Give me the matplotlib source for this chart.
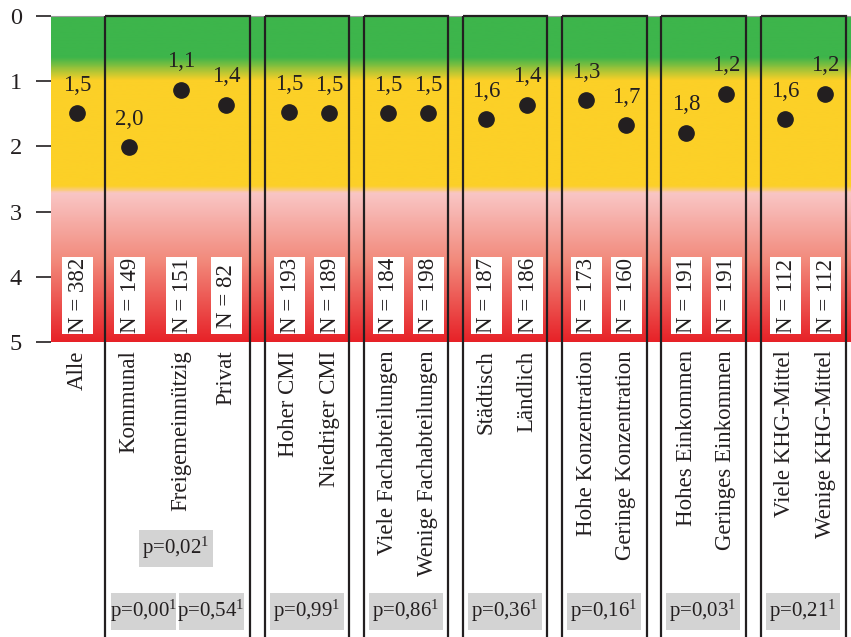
import numpy as np
import matplotlib
matplotlib.use('Agg')
import matplotlib.pyplot as plt
from matplotlib.colors import LinearSegmentedColormap
from matplotlib.patches import Rectangle

plt.rcParams['font.family'] = 'serif'
plt.rcParams['font.serif'] = ['Liberation Serif', 'DejaVu Serif']
plt.rcParams['mathtext.fontset'] = 'custom'
plt.rcParams['mathtext.rm'] = 'Liberation Serif'
plt.rcParams['mathtext.it'] = 'Liberation Serif'
plt.rcParams['mathtext.default'] = 'rm'

# categories and values (mean score, 0 = best)
labels = ['Alle', 'Kommunal', 'Freigemeinnützig', 'Privat',
          'Hoher CMI', 'Niedriger CMI',
          'Viele Fachabteilungen', 'Wenige Fachabteilungen',
          'Städtisch', 'Ländlich',
          'Hohe Konzentration', 'Geringe Konzentration',
          'Hohes Einkommen', 'Geringes Einkommen',
          'Viele KHG-Mittel', 'Wenige KHG-Mittel']
values = [1.49, 2.01, 1.13, 1.36, 1.47, 1.49, 1.49, 1.49,
          1.58, 1.36, 1.29, 1.67, 1.79, 1.19, 1.58, 1.19]
value_text = ['1,5', '2,0', '1,1', '1,4', '1,5', '1,5', '1,5', '1,5',
              '1,6', '1,4', '1,3', '1,7', '1,8', '1,2', '1,6', '1,2']
n_counts = [382, 149, 151, 82, 193, 189, 184, 198,
            187, 186, 173, 160, 191, 191, 112, 112]

# category positions on the x axis
xpos = [26, 78, 130, 175, 238, 278, 337, 377,
        435, 476, 535, 575, 635, 675, 734, 774]
# group frames (left, right)
groups = [(54, 199), (214, 298), (313, 397), (412, 496),
          (511, 595.5), (610, 694.7), (709.7, 794.5)]
# p-values (footnote 1)
p_text = ['0,02', '0,00', '0,54', '0,99', '0,86',
          '0,36', '0,16', '0,03', '0,21']
p_x = [125, 92.5, 160, 256, 355, 454, 553, 652, 752]
p_row = [0, 1, 1, 1, 1, 1, 1, 1, 1]
p_w = [74, 65, 65, 74, 74, 74, 74, 74, 74]

W, H = 851, 637
fig = plt.figure(figsize=(W / 100, H / 100), dpi=100)
ax = fig.add_axes([51 / W, 1 - 342 / H, 800 / W, 326 / H])
px = 5 / 326.0  # one pixel in y data units

cmap = LinearSegmentedColormap.from_list('ampel', [
    (0.0, '#3db54b'), (0.124, '#3db54b'), (0.196, '#fcd027'),
    (0.52, '#fcd027'), (0.544, '#f9c6c5'), (0.75, '#f28a7c'),
    (1.0, '#e72228')])
grad = np.linspace(0, 1, 500).reshape(-1, 1)
ax.imshow(grad, cmap=cmap, extent=[0, 800, 5, 0], aspect='auto', zorder=0)

ax.set_xlim(0, 800)
ax.set_ylim(5, 0)

fs = 16.5
ink = '#231f20'
ax.plot(xpos, values, 'o', color=ink, markersize=11, zorder=4)
for x, v, t in zip(xpos, values, value_text):
    ax.annotate(t, (x, v), xytext=(0, 16), textcoords='offset points',
                ha='center', va='baseline', fontsize=fs, color=ink, zorder=5)

for x, n in zip(xpos, n_counts):
    ax.add_patch(Rectangle((x - 15.5, 4.29 - 38.5 * px), 31, 77 * px,
                           fc='white', ec='none', zorder=4))
    ax.text(x + 1, 4.29, 'N = %d' % n, rotation=90, ha='center', va='center',
            fontsize=fs, color=ink, zorder=5)

for l, r in groups:
    ax.add_patch(Rectangle((l, 0), r - l, 10, fill=False, ec=ink,
                           lw=1.6, clip_on=False, zorder=6))

row_y = [8.16, 9.13]
for t, x, row, w in zip(p_text, p_x, p_row, p_w):
    y = row_y[row]
    ax.add_patch(Rectangle((x - w / 2, y - 18.5 * px), w, 37 * px,
                           fc='#d3d3d3', ec='none', clip_on=False, zorder=3))
    ax.text(x, y, 'p=' + t + '$^{1}$', ha='center', va='center', fontsize=15,
            color=ink, clip_on=False, zorder=5)

ax.set_xticks(xpos)
ax.set_xticklabels(labels, rotation=90, va='top', ha='center', fontsize=fs,
                   color=ink)
ax.tick_params(axis='x', length=0, pad=6)
ax.set_yticks([0, 1, 2, 3, 4, 5])
ax.set_yticklabels(['0', '1', '2', '3', '4', '5'], fontsize=fs + 1, color=ink)
ax.tick_params(axis='y', length=11, width=1.2, pad=10, color=ink)

for s in ['left', 'right', 'bottom']:
    ax.spines[s].set_visible(False)
ax.spines['top'].set_color('#9a9a9a')
ax.spines['top'].set_linewidth(0.8)

fig.savefig('out.png', dpi=100)
